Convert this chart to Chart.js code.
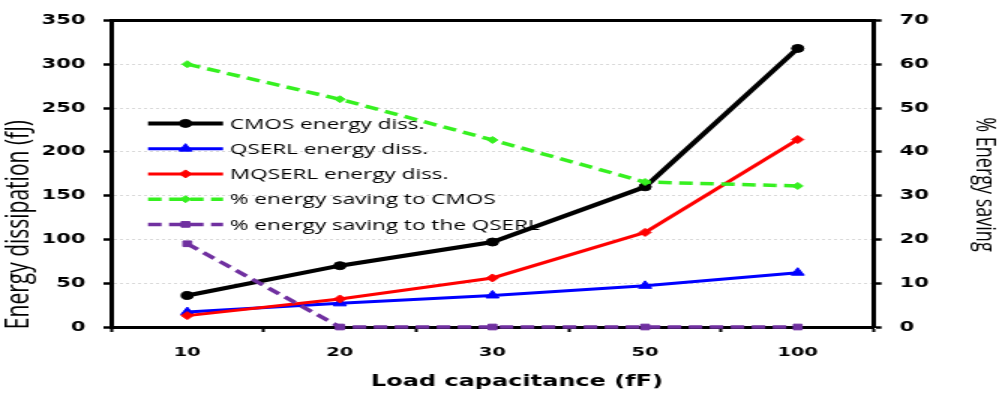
<!DOCTYPE html>
<html>
<head>
<meta charset="utf-8">
<title>Energy dissipation vs load capacitance</title>
<script src="https://cdn.jsdelivr.net/npm/chart.js@4.4.0/dist/chart.umd.min.js"></script>
<style>
  html,body{margin:0;padding:0;background:#fff}
  #c{display:block}
</style>
</head>
<body>
<!-- the source picture is stretched sideways, so the canvas is drawn narrow and widened by its style -->
<canvas id="c" width="668" height="395" style="width:1002px;height:395px"></canvas>
<script>
const categories = ['10', '20', '30', '50', '100'];
const cmosDiss = [36, 70, 97, 160, 318];
const qserlDiss = [17, 27, 36, 47, 62];
const mqserlDiss = [13, 32, 56, 108, 214];
const savingVsCmos = [60, 52, 42.7, 33.1, 32.2];
const savingVsQserl = [19, 0, 0, 0, 0];
const leftTicks = [0, 50, 100, 150, 200, 250, 300, 350];
const rightTicks = [0, 10, 20, 30, 40, 50, 60, 70];
const xTitle = 'Load capacitance (fF)';
const yTitle = 'Energy dissipation (fJ)';
const y2Title = '% Energy saving';

const tickFont = {family: 'DejaVu Sans', weight: 'bold', size: 14};

function ds(label, data, color, axis, style, radius, width, dash, order) {
  return {label, data, yAxisID: axis, borderColor: color, backgroundColor: color,
    pointBackgroundColor: color, pointBorderColor: color, pointBorderWidth: 1,
    borderWidth: width, borderDash: dash, pointStyle: style, pointRadius: radius,
    tension: 0, clip: false, order};
}

// axis titles + legend inside the plot
const extras = {
  id: 'extras',
  afterDraw(chart) {
    const {ctx, chartArea: ca} = chart;
    ctx.save();
    ctx.fillStyle = '#000';
    ctx.textAlign = 'center';
    ctx.textBaseline = 'middle';
    ctx.font = 'bold 16px "DejaVu Sans"';
    ctx.fillText(xTitle, ca.left + ca.width * 0.532, ca.bottom + 55);

    ctx.font = '21px "Open Sans"';
    ctx.save(); ctx.translate(ca.left - 60.7, ca.top + ca.height * 0.666); ctx.rotate(-Math.PI / 2);
    ctx.fillText(yTitle, 0, 0); ctx.restore();

    ctx.font = '18px "Open Sans"';
    ctx.save(); ctx.translate(ca.right + 73.3, ca.top + ca.height * 0.535); ctx.rotate(Math.PI / 2);
    ctx.fillText(y2Title, 0, 0); ctx.restore();

    const lx = ca.left + 24.7, ly = ca.top + 103;
    chart.data.datasets.forEach((d, i) => {
      const y = ly + i * 25.25;
      ctx.save();
      ctx.strokeStyle = d.borderColor; ctx.lineWidth = d.borderWidth;
      ctx.setLineDash(d.borderDash || []);
      ctx.beginPath(); ctx.moveTo(lx, y); ctx.lineTo(lx + 50, y); ctx.stroke();
      ctx.setLineDash([]);
      ctx.fillStyle = d.backgroundColor; ctx.lineWidth = 1;
      Chart.helpers.drawPoint(ctx, {pointStyle: d.pointStyle, radius: d.pointRadius, rotation: 0, borderWidth: 1}, lx + 25, y);
      ctx.restore();
      ctx.textAlign = 'left';
      ctx.font = '15px "Open Sans"';
      ctx.fillText(d.label, lx + 54.6, y + 1);
    });
    ctx.restore();
  }
};

new Chart(document.getElementById('c'), {
  type: 'line',
  data: {
    labels: categories,
    datasets: [
      ds('CMOS energy diss.', cmosDiss, '#000000', 'y', 'circle', 4, 4, [], 5),
      ds('QSERL energy diss.', qserlDiss, '#0000FF', 'y', 'triangle', 5, 3, [], 4),
      ds('MQSERL energy diss.', mqserlDiss, '#FF0000', 'y', 'rectRot', 4, 3, [], 3),
      ds('% energy saving to CMOS', savingVsCmos, '#36F020', 'y2', 'rectRot', 3.5, 3.5, [9, 5], 2),
      ds('% energy saving to the QSERL', savingVsQserl, '#7030A0', 'y2', 'rect', 4, 3.5, [9, 5], 1)
    ]
  },
  options: {
    responsive: false,
    animation: false,
    devicePixelRatio: 1,
    layout: {padding: 0},
    plugins: {legend: {display: false}, tooltip: {enabled: false}},
    scales: {
      x: {
        type: 'category', position: 'bottom', offset: true,
        grid: {offset: true, drawOnChartArea: false, tickLength: 5, tickWidth: 2, tickColor: '#000'},
        border: {display: true, color: '#000', width: 3},
        ticks: {color: '#000', font: {family: 'DejaVu Sans', weight: 'bold', size: 13}, padding: 13, maxRotation: 0},
        afterFit(s) { s.height = 68; }
      },
      xTop: {
        type: 'category', position: 'top', offset: true,
        grid: {display: false},
        border: {display: true, color: '#000', width: 3},
        ticks: {display: false},
        afterFit(s) { s.height = 13; }
      },
      y: {
        position: 'left',
        min: leftTicks[0], max: leftTicks[leftTicks.length - 1],
        grid: {color: '#d9d9d9', lineWidth: 1, tickColor: '#000', tickWidth: 2.5, tickLength: 5},
        border: {display: true, color: '#000', width: 3, dash: [2, 2]},
        ticks: {stepSize: leftTicks[1] - leftTicks[0], color: '#000', font: tickFont, padding: 12},
        afterFit(s) { s.width = 74; }
      },
      y2: {
        position: 'right',
        min: rightTicks[0], max: rightTicks[rightTicks.length - 1],
        grid: {drawOnChartArea: false, tickColor: '#000', tickWidth: 2.5, tickLength: 5},
        border: {display: true, color: '#000', width: 3},
        ticks: {stepSize: rightTicks[1] - rightTicks[0], color: '#000', font: tickFont, padding: 12},
        afterFit(s) { s.width = 668 - 582.67; }
      }
    }
  },
  plugins: [extras]
});
</script>
</body>
</html>
